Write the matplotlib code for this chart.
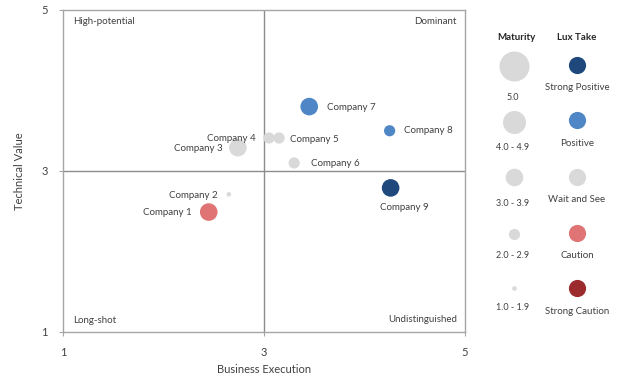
import matplotlib
matplotlib.use("Agg")
import matplotlib.pyplot as plt

plt.rcParams['font.family'] = ['Lato', 'DejaVu Sans']

companies = ["Company 1", "Company 2", "Company 3", "Company 4", "Company 5",
             "Company 6", "Company 7", "Company 8", "Company 9"]
business_execution = [2.45, 2.65, 2.74, 3.05, 3.15, 3.30, 3.45, 4.25, 4.26]
technical_value = [2.49, 2.71, 3.29, 3.41, 3.41, 3.10, 3.80, 3.50, 2.79]
maturity = [3.5, 1.5, 3.5, 2.5, 2.5, 2.5, 3.5, 2.6, 3.5]
lux_take = ["Caution", "Wait and See", "Wait and See", "Wait and See", "Wait and See",
            "Wait and See", "Positive", "Positive", "Strong Positive"]

maturity_bins = ["5.0", "4.0 - 4.9", "3.0 - 3.9", "2.0 - 2.9", "1.0 - 1.9"]
maturity_radius = [15, 11.5, 8.8, 5.6, 2.3]  # px
lux_levels = ["Strong Positive", "Positive", "Wait and See", "Caution", "Strong Caution"]
lux_colors = ["#1F497D", "#4F86C6", "#D9D9D9", "#E07373", "#9C2B2E"]

quadrants = ["High-potential", "Dominant", "Long-shot", "Undistinguished"]

# label offsets (pixels) and alignment
label_pos = [(-17, 0, 'right'), (-11, -1, 'right'), (-15, -1, 'right'), (-13, -1, 'right'),
             (11, -2, 'left'), (17, -1, 'left'), (18, -1, 'left'), (14, 0, 'left'),
             (14, -20, 'center')]


def bin_index(m):
    if m >= 5:
        return 0
    return 4 - (int(m) - 1)


def size_of(r):
    return (2 * r * 0.72) ** 2


fig = plt.figure(figsize=(6.24, 3.86), dpi=100)
W, H = 624, 386
ax = fig.add_axes([63 / W, 1 - 332 / H, (465 - 63) / W, (332 - 10) / H])
ax.set_xlim(1, 5)
ax.set_ylim(1, 5)
ax.set_xticks([1, 3, 5])
ax.set_yticks([1, 3, 5])
for s in ax.spines.values():
    s.set_color("#A6A6A6")
    s.set_linewidth(1.0)
ax.tick_params(length=3, color="#A6A6A6", labelsize=8, colors="#404040", pad=8)
ax.axvline(3, color="#8C8C8C", lw=1.0, zorder=1)
ax.axhline(3, color="#8C8C8C", lw=1.0, zorder=1)
ax.set_xlabel("Business Execution", fontsize=8, color="#404040", labelpad=4)
ax.set_ylabel("Technical Value", fontsize=8, color="#404040", labelpad=12)

cols = [lux_colors[lux_levels.index(t)] for t in lux_take]
sizes = [size_of(maturity_radius[bin_index(m)]) for m in maturity]
ax.scatter(business_execution, technical_value, s=sizes, c=cols, linewidths=0, zorder=3)

for i, name in enumerate(companies):
    dx, dy, ha = label_pos[i]
    ax.annotate(name, (business_execution[i], technical_value[i]), xytext=(dx, dy),
                textcoords='offset pixels', ha=ha, va='center', fontsize=7, color="#404040")

qkw = dict(transform=ax.transAxes, fontsize=7, color="#404040")
ax.text(0.025, 0.965, quadrants[0], ha='left', va='center', **qkw)
ax.text(0.98, 0.965, quadrants[1], ha='right', va='center', **qkw)
ax.text(0.025, 0.035, quadrants[2], ha='left', va='center', **qkw)
ax.text(0.98, 0.04, quadrants[3], ha='right', va='center', **qkw)

# legend panel in pixel coordinates
lg = fig.add_axes([0, 0, 1, 1], facecolor='none')
lg.set_xlim(0, W)
lg.set_ylim(H, 0)
lg.axis('off')
lg.text(516, 38, "Maturity", ha='center', va='center', fontsize=7, fontweight='bold', color="#262626")
lg.text(577, 38, "Lux Take", ha='center', va='center', fontsize=7, fontweight='bold', color="#262626")

mat_circle_y = [66, 122, 177, 234, 288]
mat_label_y = [97, 147, 203, 255, 307]
lux_circle_y = [65, 120, 177, 233, 288]
lux_label_y = [88, 143, 200, 255, 312]
for i in range(5):
    lg.scatter(514, mat_circle_y[i], s=size_of(maturity_radius[i]), c="#D9D9D9", linewidths=0)
    lg.text(513, mat_label_y[i], maturity_bins[i], ha='center', va='center', fontsize=6.5, color="#404040")
    lg.scatter(577, lux_circle_y[i], s=size_of(8.6), c=lux_colors[i], linewidths=0)
    lg.text(577, lux_label_y[i], lux_levels[i], ha='center', va='center', fontsize=7, color="#404040")

fig.savefig("out.png", dpi=100)
